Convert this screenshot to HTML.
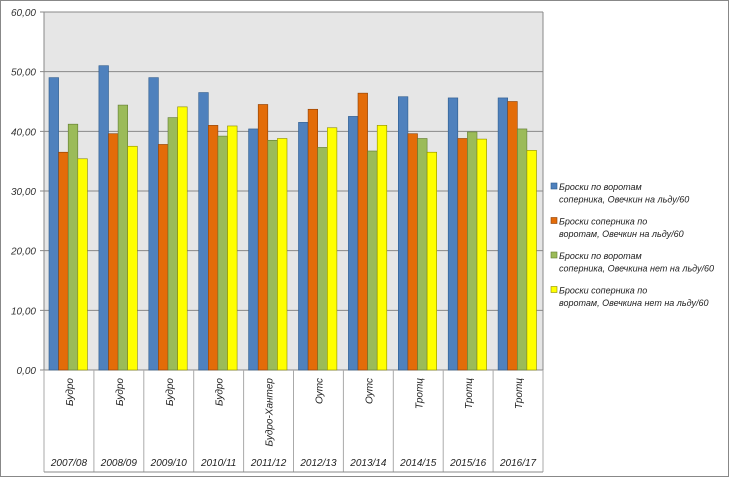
<!DOCTYPE html>
<html><head><meta charset="utf-8"><style>
body{margin:0;background:#fff;}
svg{display:block;font-family:"Liberation Sans","DejaVu Sans",sans-serif;font-style:italic;}
</style></head><body>
<svg id="c" width="730" height="478">
<rect x="0.5" y="0.5" width="728" height="476" fill="#fff" stroke="#888"/>
<g id="plot"></g>
</svg>
<script>
const categories=["2007/08","2008/09","2009/10","2010/11","2011/12","2012/13","2013/14","2014/15","2015/16","2016/17"];
const coaches=["Будро","Будро","Будро","Будро","Будро-Хантер","Оутс","Оутс","Тротц","Тротц","Тротц"];
const s1=[49.0,51.0,49.0,46.5,40.4,41.5,42.5,45.8,45.6,45.6];
const s2=[36.5,39.6,37.8,41.0,44.5,43.7,46.4,39.6,38.8,45.0];
const s3=[41.2,44.4,42.3,39.2,38.5,37.3,36.7,38.8,39.9,40.4];
const s4=[35.4,37.5,44.1,40.9,38.8,40.6,41.0,36.5,38.7,36.8];
const ticks=[0,10,20,30,40,50,60];
const tickLabels=["0,00","10,00","20,00","30,00","40,00","50,00","60,00"];
const seriesNames=[["Броски по воротам","соперника, Овечкин на льду/60"],["Броски соперника по","воротам, Овечкин на льду/60"],["Броски по воротам","соперника, Овечкина нет на льду/60"],["Броски соперника по","воротам, Овечкина нет на льду/60"]];
const colors=["#4f81bd","#e36c09","#9bbb59","#ffff00"];
const strokes=["#2c5a8c","#8a3f05","#5f7a30","#8a8a00"];
const X0=44,X1=543,Y0=370,Y1=12;
const NS="http://www.w3.org/2000/svg";
const g=document.getElementById('plot');
function y(v){return Y0-(v/60)*(Y0-Y1);}
const gw=(X1-X0)/categories.length;
function x(i){return X0+i*gw;}
function el(t,a){const e=document.createElementNS(NS,t);for(const k in a)e.setAttribute(k,a[k]);g.appendChild(e);return e;}
let bg=el('rect',{x:X0,y:Y1,width:X1-X0,height:Y0-Y1,fill:'#e6e6e6'});


ticks.forEach((t,i)=>{
 let l=el('line',{x1:X0-4,x2:X1,y1:y(t),y2:y(t),stroke:'#888','stroke-width':1});
 
 
 let tx=el('text',{x:X0-8,y:y(t)+4,'text-anchor':'end','font-size':10,fill:'#333'});
 tx.textContent=tickLabels[i];
 
 
});
let ax=el('line',{x1:X0,x2:X0,y1:Y1,y2:Y0,stroke:'#888'});


let rb=el('line',{x1:X1,x2:X1,y1:Y1,y2:Y0,stroke:'#888'});


const series=[s1,s2,s3,s4];
const bw=9.6;
categories.forEach((c,i)=>{
 series.forEach((s,k)=>{
  const bx=x(i)+5+k*bw;
  let r=el('rect',{x:bx,y:y(s[i]),width:bw,height:Y0-y(s[i]),fill:colors[k],stroke:strokes[k],'stroke-width':0.6});
  
  
 });
 let sl=el('line',{x1:x(i),x2:x(i),y1:Y0,y2:472,stroke:'#aaa'});
 
 
 const cx=x(i)+gw/2;
 let ct=el('text',{x:0,y:0,'text-anchor':'end','font-size':10,fill:'#222',transform:`translate(${cx+4},378) rotate(-90)`});
 ct.textContent=coaches[i];
 
 
 let yt=el('text',{x:cx,y:466,'text-anchor':'middle','font-size':10,fill:'#222'});
 yt.textContent=c;
 
 
});
let ls=el('line',{x1:X1,x2:X1,y1:Y0,y2:472,stroke:'#aaa'});


let bl=el('line',{x1:X0,x2:X1,y1:472,y2:472,stroke:'#888'});


seriesNames.forEach((n,k)=>{
 const ly=190+k*34.5;
 let sq=el('rect',{x:551,y:ly-7,width:6,height:6,fill:colors[k],stroke:strokes[k],'stroke-width':0.6});
 
 
 n.forEach((line,j)=>{
  let t=el('text',{x:559,y:ly+j*12.5,'font-size':9,fill:'#222'});
  t.textContent=line;
  
  
 });
});
</script>
</body></html>
